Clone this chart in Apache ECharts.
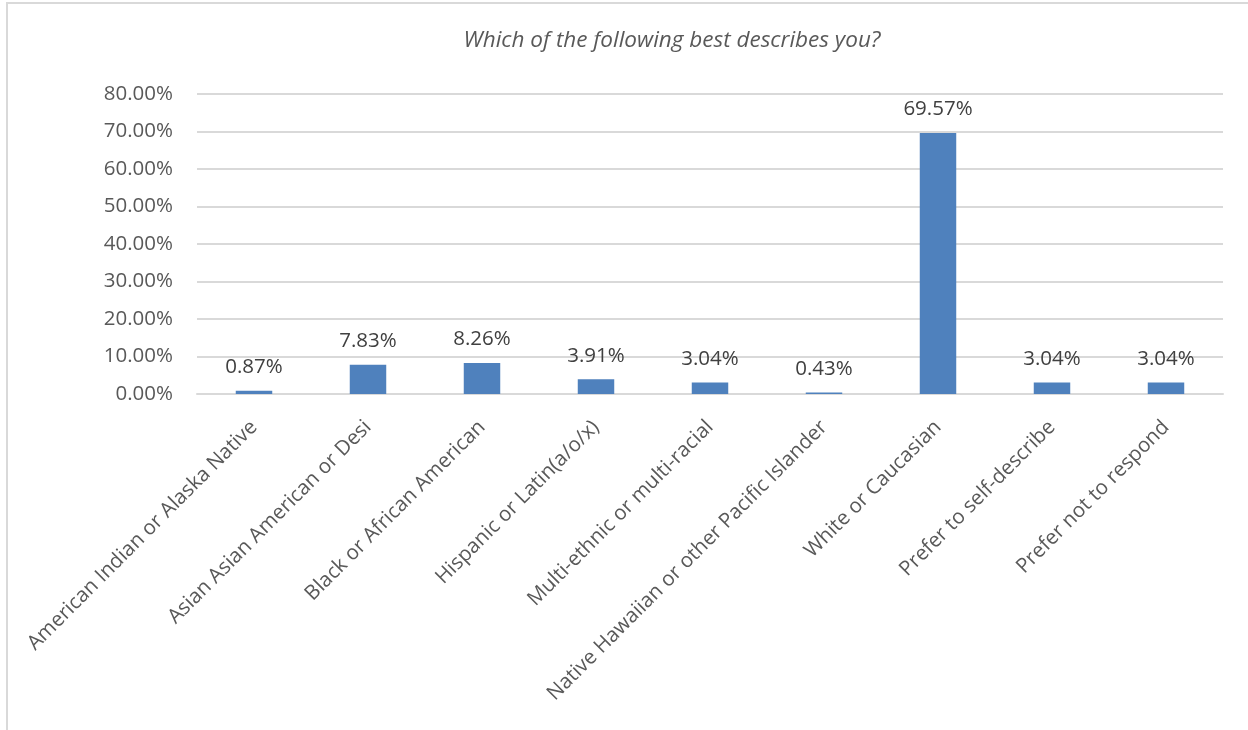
<!DOCTYPE html>
<html>
<head>
<meta charset="utf-8">
<script src="https://cdn.jsdelivr.net/npm/echarts@6/dist/echarts.min.js"></script>
<style>
  html, body { margin: 0; padding: 0; background: #fff; }
  #chart { width: 1248px; height: 730px; }
</style>
</head>
<body>
<div id="chart"></div>
<script>
const categories = [
  'American Indian or Alaska Native',
  'Asian Asian American or Desi',
  'Black or African American',
  'Hispanic or Latin(a/o/x)',
  'Multi-ethnic or multi-racial',
  'Native Hawaiian or other Pacific Islander',
  'White or Caucasian',
  'Prefer to self-describe',
  'Prefer not to respond'
]
const shares = [0.87, 7.83, 8.26, 3.91, 3.04, 0.43, 69.57, 3.04, 3.04]
const yTicks = { min: 0, max: 80, step: 10 }
const titleText = 'Which of the following best describes you?'

const font = '"Open Sans", sans-serif'
const chart = echarts.init(document.getElementById('chart'))

chart.setOption({
  backgroundColor: '#fff',
  animation: false,
  title: {
    text: titleText,
    left: 667,
    top: 24,
    textAlign: 'center',
    textStyle: { fontFamily: font, fontStyle: 'italic', fontWeight: 'normal', fontSize: 22.5, color: '#595959' }
  },
  graphic: [
    {
      type: 'rect',
      shape: { x: 7, y: 3, width: 1260, height: 740 },
      style: { fill: 'none', stroke: '#d9d9d9', lineWidth: 2 },
      silent: true
    }
  ],
  grid: { left: 197, right: 25, top: 94, bottom: 336 },
  xAxis: {
    type: 'category',
    data: categories,
    axisLine: { lineStyle: { color: '#d9d9d9', width: 2 } },
    axisTick: { show: false },
    axisLabel: {
      rotate: 45,
      interval: 0,
      margin: 30,
      fontFamily: font,
      fontSize: 20.5,
      color: '#595959'
    }
  },
  yAxis: {
    type: 'value',
    min: yTicks.min,
    max: yTicks.max,
    interval: yTicks.step,
    axisLine: { show: false },
    axisTick: { show: false },
    splitLine: { lineStyle: { color: '#d9d9d9', width: 2 } },
    axisLabel: {
      margin: 24,
      fontFamily: font,
      fontSize: 20.5,
      color: '#595959',
      formatter: (v) => v.toFixed(2) + '%'
    }
  },
  series: [
    {
      type: 'bar',
      data: shares,
      barWidth: '32%',
      itemStyle: { color: '#4f81bd' },
      label: {
        show: true,
        position: 'top',
        distance: 13,
        fontFamily: font,
        fontSize: 20.5,
        color: '#404040',
        formatter: (p) => p.value.toFixed(2) + '%'
      }
    }
  ]
})
</script>
</body>
</html>
